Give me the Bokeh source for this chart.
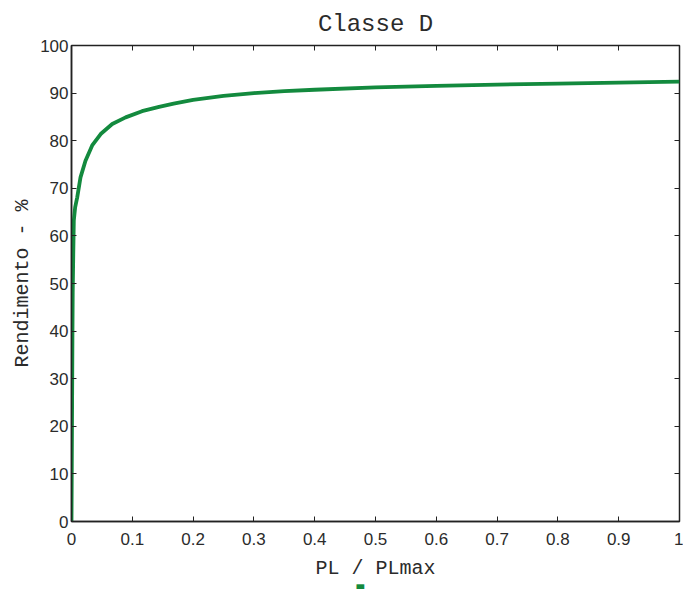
from bokeh.plotting import figure
from bokeh.models import LinearAxis, FixedTicker, Range1d, Title, CustomJSTickFormatter
from bokeh.embed import file_html
from bokeh.resources import INLINE

# data
pl_ratio = [0, 0.0005, 0.001, 0.0015, 0.002, 0.003, 0.0038, 0.006, 0.0094, 0.0148,
            0.023, 0.034, 0.048, 0.067, 0.089, 0.116, 0.144, 0.168, 0.2, 0.25,
            0.3, 0.35, 0.4, 0.5, 0.6, 0.7, 0.8, 0.9, 1.0]
rendimento = [0, 12, 25, 38, 48, 57, 63.2, 66, 68.1, 72.3,
              75.8, 79.0, 81.4, 83.5, 84.9, 86.2, 87.1, 87.8, 88.6, 89.4,
              90.0, 90.4, 90.7, 91.2, 91.5, 91.8, 92.0, 92.2, 92.4]
x_ticks = [0, 0.1, 0.2, 0.3, 0.4, 0.5, 0.6, 0.7, 0.8, 0.9, 1]
x_tick_labels = ["0", "0.1", "0.2", "0.3", "0.4", "0.5", "0.6", "0.7", "0.8", "0.9", "1"]
y_ticks = [0, 10, 20, 30, 40, 50, 60, 70, 80, 90, 100]

TXT = "#2b2b2b"
GREEN = "#138a3e"

p = figure(width=683, height=589, output_backend="svg", toolbar_location=None,
           x_range=Range1d(0, 1), y_range=Range1d(0, 100),
           min_border_left=71, min_border_right=4, min_border_top=45, min_border_bottom=0)
p.title.text = "Classe D"
p.title.align = "center"
p.title.text_font = "Liberation Mono"
p.title.text_font_size = "24px"
p.title.text_font_style = "normal"
p.title.text_color = TXT
p.title.standoff = 16
p.grid.visible = False
p.outline_line_color = "#222222"
p.outline_line_width = 1.5
p.background_fill_color = "white"
p.border_fill_color = "white"

p.line(pl_ratio, rendimento, line_color=GREEN, line_width=3.8)

for ax in (p.xaxis[0], p.yaxis[0]):
    ax.major_tick_in = 5
    ax.major_tick_out = 0
    ax.minor_tick_line_color = None
    ax.axis_line_color = "#222222"
    ax.axis_line_width = 1.5
    ax.major_tick_line_color = "#222222"
    ax.major_label_text_font = "Liberation Sans"
    ax.major_label_text_font_size = "17px"
    ax.major_label_text_color = TXT
    ax.axis_label_text_font = "Liberation Mono"
    ax.axis_label_text_font_style = "normal"
    ax.axis_label_text_font_size = "20px"
    ax.axis_label_text_color = TXT

p.xaxis[0].ticker = FixedTicker(ticks=x_ticks)
p.xaxis[0].major_label_overrides = {t: l for t, l in zip(x_ticks, x_tick_labels)}
p.xaxis[0].axis_label = "PL / PLmax"
p.xaxis[0].major_label_standoff = 11
p.xaxis[0].axis_label_standoff = 9
p.yaxis[0].ticker = FixedTicker(ticks=y_ticks)
p.yaxis[0].axis_label = "Rendimento - %"
p.yaxis[0].major_label_standoff = 3
p.yaxis[0].axis_label_standoff = 3

blank = CustomJSTickFormatter(code="return ''")
top = LinearAxis(ticker=FixedTicker(ticks=x_ticks), major_tick_in=5, major_tick_out=0,
                 minor_tick_line_color=None, formatter=blank,
                 axis_line_color=None, major_tick_line_color="#222222", major_label_standoff=0)
right = LinearAxis(ticker=FixedTicker(ticks=y_ticks), major_tick_in=5, major_tick_out=0,
                   minor_tick_line_color=None, formatter=blank,
                   axis_line_color=None, major_tick_line_color="#222222", major_label_standoff=0)
p.add_layout(top, "above")
p.add_layout(right, "right")

p.add_layout(Title(text="■", text_color=GREEN, text_font_size="16px", align="left",
                   offset=284, standoff=-12), "below")

open("out.html", "w").write(file_html(p, INLINE))
